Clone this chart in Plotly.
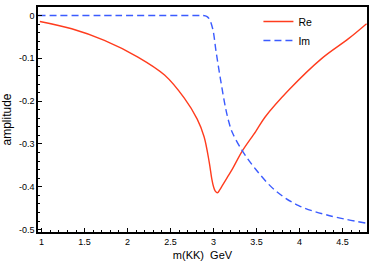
import plotly.graph_objects as go

# Data
re_x = [0.98, 1.35, 1.73, 2.12, 2.43, 2.66, 2.81, 2.89, 2.95, 2.98, 3.00, 3.02, 3.045,
        3.07, 3.10, 3.16, 3.22, 3.335, 3.49, 3.60, 3.875, 4.26, 4.57, 4.78]
re_y = [-0.014, -0.031, -0.058, -0.097, -0.139, -0.193, -0.242, -0.283, -0.343, -0.382,
        -0.400, -0.410, -0.414, -0.408, -0.398, -0.378, -0.358, -0.316, -0.271, -0.237,
        -0.174, -0.100, -0.054, -0.019]

im_x = [0.96, 1.9, 2.8, 2.88, 2.92, 2.95, 2.99, 3.03, 3.085, 3.14, 3.18, 3.22, 3.335,
        3.49, 3.72, 3.99, 4.34, 4.78]
im_y = [0.0, 0.0, 0.0, 0.0, -0.002, -0.008, -0.031, -0.085, -0.154, -0.216, -0.250,
        -0.274, -0.316, -0.359, -0.409, -0.444, -0.467, -0.485]

y_tick_labels = ["0", "-0.1", "-0.2", "-0.3", "-0.4", "-0.5"]

FONT = "Liberation Sans, Arial, Helvetica, sans-serif"
RED = "#ff3c1e"
BLUE = "#3b5bff"
INK = "black"

fig = go.Figure()
fig.add_trace(go.Scatter(x=re_x, y=re_y, mode="lines", name="Re",
                         line=dict(color=RED, width=1.4, shape="spline", smoothing=1.0)))
fig.add_trace(go.Scatter(x=im_x, y=im_y, mode="lines", name="Im",
                         line=dict(color=BLUE, width=1.4, dash="7px,4px",
                                   shape="spline", smoothing=1.0)))

axis_common = dict(showline=True, linecolor=INK, linewidth=1.5, mirror=True,
                   ticks="inside", ticklen=4, tickwidth=1, tickcolor=INK,
                   showgrid=False, zeroline=False,
                   tickfont=dict(family=FONT, size=9, color="black"))

fig.update_xaxes(range=[0.958, 4.785], tickmode="linear", tick0=1, dtick=0.5,
                 minor=dict(ticks="inside", ticklen=2, dtick=0.1,
                            tickcolor=INK, showgrid=False),
                 title=dict(text="m(KK)\u00a0\u00a0GeV", standoff=6,
                            font=dict(family=FONT, size=11, color="black")),
                 **axis_common)
fig.update_yaxes(range=[-0.5056, 0.0199], tickmode="linear", tick0=0, dtick=0.1,
                 labelalias={lab.replace("-", "\u2212"): lab for lab in y_tick_labels},
                 minor=dict(ticks="inside", ticklen=2, dtick=0.02,
                            tickcolor=INK, showgrid=False),
                 title=dict(text="amplitude", standoff=5,
                            font=dict(family=FONT, size=12, color="black")),
                 **axis_common)

fig.update_layout(
    width=374, height=270,
    margin=dict(l=38, r=5, t=5, b=38),
    paper_bgcolor="white", plot_bgcolor="white",
    showlegend=True,
    legend=dict(x=0.67, y=1.0, xanchor="left", yanchor="top",
                bgcolor="rgba(0,0,0,0)", borderwidth=0, itemwidth=30,
                font=dict(family=FONT, size=10.5, color="black")),
)

fig.write_html("out.html", config={"displayModeBar": False},
               post_script="document.body.style.margin='0';document.body.style.overflow='hidden';")
